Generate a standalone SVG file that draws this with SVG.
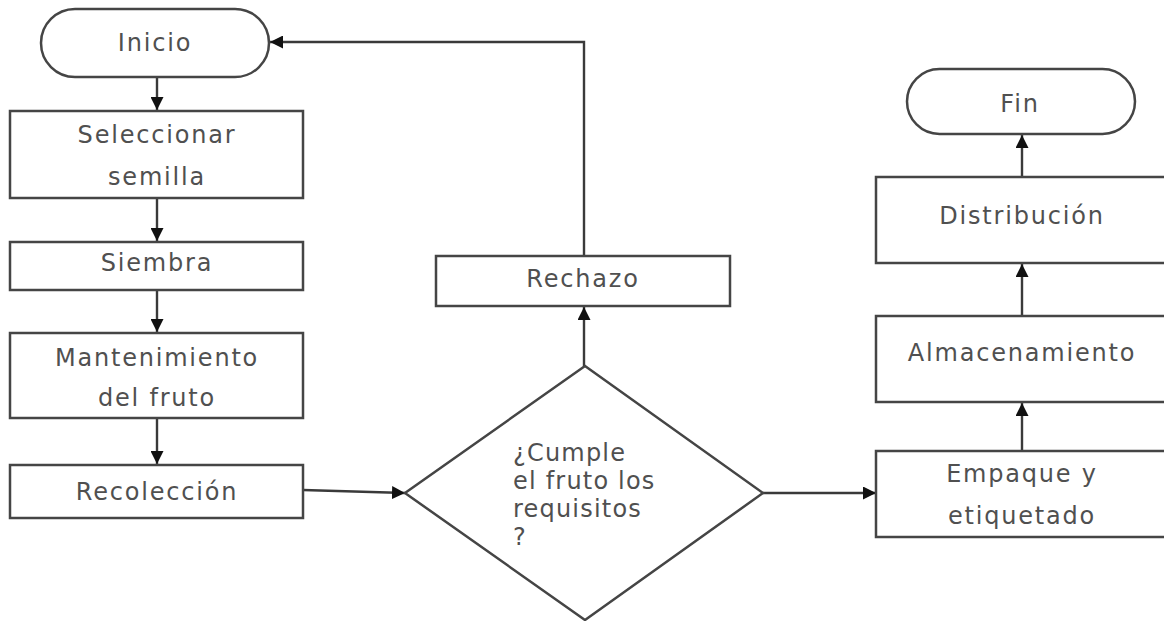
<svg xmlns="http://www.w3.org/2000/svg" width="1164" height="621" viewBox="0 0 1164 621">
<style>
.shape{fill:#ffffff;stroke:#454545;stroke-width:2.5}
.lbl{font-family:"DejaVu Sans","Liberation Sans",sans-serif;font-size:24px;fill:#505050;letter-spacing:1.8px;text-anchor:middle}
.lft{text-anchor:start;letter-spacing:1.2px}
.conn{fill:none;stroke:#3a3a3a;stroke-width:2.4}
</style>
<defs>
<marker id="ah" markerUnits="userSpaceOnUse" markerWidth="13" markerHeight="13" viewBox="0 0 13 13" refX="13" refY="6.5" orient="auto">
<path d="M0,0 L13,6.5 L0,13 z" fill="#111"/>
</marker>
</defs>
<rect width="1164" height="621" fill="#ffffff"/>
<g id="connectors">
<line class="conn" x1="157" y1="77" x2="157" y2="110" marker-end="url(#ah)"/>
<line class="conn" x1="157" y1="198" x2="157" y2="241" marker-end="url(#ah)"/>
<line class="conn" x1="157" y1="290" x2="157" y2="332" marker-end="url(#ah)"/>
<line class="conn" x1="157" y1="417" x2="157" y2="464" marker-end="url(#ah)"/>
<line class="conn" x1="303" y1="490" x2="405" y2="493" marker-end="url(#ah)"/>
<line class="conn" x1="584" y1="366" x2="584" y2="307" marker-end="url(#ah)"/>
<polyline class="conn" points="584,256 584,42 270,42" marker-end="url(#ah)"/>
<line class="conn" x1="763" y1="493" x2="876" y2="493" marker-end="url(#ah)"/>
<line class="conn" x1="1022" y1="451" x2="1022" y2="403" marker-end="url(#ah)"/>
<line class="conn" x1="1022" y1="316" x2="1022" y2="264" marker-end="url(#ah)"/>
<line class="conn" x1="1022" y1="177" x2="1022" y2="135" marker-end="url(#ah)"/>
</g>
<g id="inicio">
<rect class="shape" x="41" y="9" width="228" height="68" rx="34" ry="34"/>
<text class="lbl" x="155" y="51">Inicio</text>
</g>
<g id="seleccionar">
<rect class="shape" x="10" y="111" width="293" height="87"/>
<text class="lbl" x="157" y="143">Seleccionar</text>
<text class="lbl" x="157" y="185">semilla</text>
</g>
<g id="siembra">
<rect class="shape" x="10" y="242" width="293" height="48"/>
<text class="lbl" x="157" y="271">Siembra</text>
</g>
<g id="mantenimiento">
<rect class="shape" x="10" y="333" width="293" height="85"/>
<text class="lbl" x="157" y="366">Mantenimiento</text>
<text class="lbl" x="157" y="406">del fruto</text>
</g>
<g id="recoleccion">
<rect class="shape" x="10" y="465" width="293" height="53"/>
<text class="lbl" x="157" y="500">Recolección</text>
</g>
<g id="decision">
<polygon class="shape" points="585,366 763,493 585,620 405,493"/>
<text class="lbl lft" x="513" y="461">¿Cumple</text>
<text class="lbl lft" x="513" y="489">el fruto los</text>
<text class="lbl lft" x="513" y="517">requisitos</text>
<text class="lbl lft" x="513" y="545">?</text>
</g>
<g id="rechazo">
<rect class="shape" x="436" y="256" width="294" height="50"/>
<text class="lbl" x="583" y="287">Rechazo</text>
</g>
<g id="empaque">
<rect class="shape" x="876" y="451" width="300" height="86"/>
<text class="lbl" x="1022" y="482">Empaque y</text>
<text class="lbl" x="1022" y="524">etiquetado</text>
</g>
<g id="almacenamiento">
<rect class="shape" x="876" y="316" width="300" height="86"/>
<text class="lbl" x="1022" y="361">Almacenamiento</text>
</g>
<g id="distribucion">
<rect class="shape" x="876" y="177" width="300" height="86"/>
<text class="lbl" x="1022" y="224">Distribución</text>
</g>
<g id="fin">
<rect class="shape" x="907" y="69" width="228" height="65" rx="32.5" ry="32.5"/>
<text class="lbl" x="1020" y="112">Fin</text>
</g>
</svg>
